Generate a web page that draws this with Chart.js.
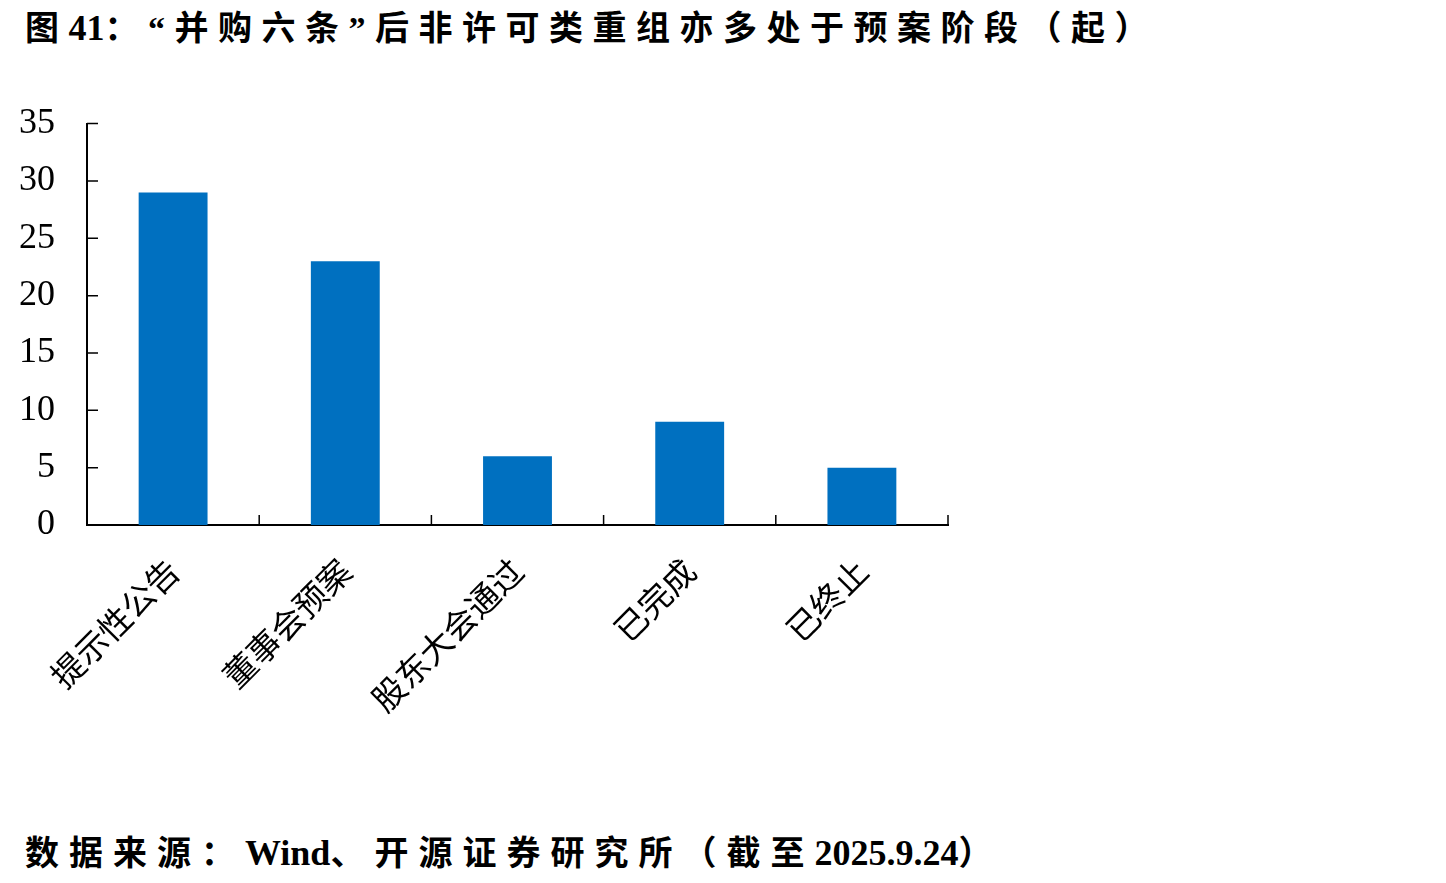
<!DOCTYPE html>
<html>
<head>
<meta charset="utf-8">
<script src="https://cdn.jsdelivr.net/npm/chart.js@4.4.0/dist/chart.umd.min.js"></script>
<style>
    html, body { margin: 0; padding: 0; background: #fff; }
    body { width: 1446px; height: 883px; position: relative; overflow: hidden; }
    .title, .source {
        position: absolute;
        left: 25px;
        font-family: "Liberation Serif", "Noto Sans CJK SC", serif;
        font-weight: bold;
        font-size: 34px;
        color: #000;
        white-space: nowrap;
    }
    .title { top: 1px; letter-spacing: 9.5px; }
    .source { top: 826px; letter-spacing: 10px; }
    .latin { letter-spacing: 0; font-size: 36px; }
    #chartBox { position: absolute; left: 0; top: 78px; width: 1000px; height: 700px; }
</style>
</head>
<body>
<div class="title">图<span class="latin">41</span>：“并购六条”后非许可类重组亦多处于预案阶段（起）</div>
<div id="chartBox"><canvas id="barChart"></canvas></div>
<div class="source">数据来源：<span class="latin">Wind</span>、开源证券研究所（截至<span class="latin">2025.9.24</span>）</div>

<script>
const categories = ['提示性公告', '董事会预案', '股东大会通过', '已完成', '已终止'];
const counts = [29, 23, 6, 9, 5];
const yTicks = [0, 5, 10, 15, 20, 25, 30, 35];

// short inward tick marks like the original
const innerTicks = {
    id: 'innerTicks',
    afterDraw(chart) {
        const ctx = chart.ctx;
        const x = chart.scales.x;
        const y = chart.scales.y;
        ctx.save();
        ctx.strokeStyle = '#000';
        ctx.lineWidth = 1.5;
        ctx.beginPath();
        y.ticks.forEach((t, i) => {
            const py = y.getPixelForTick(i);
            ctx.moveTo(y.right, py);
            ctx.lineTo(y.right + 11, py);
        });
        for (let i = 0; i <= categories.length; i++) {
            const px = x.getPixelForValue(i - 0.5);
            ctx.moveTo(px, x.top);
            ctx.lineTo(px, x.top - 10);
        }
        ctx.stroke();
        ctx.restore();
    }
};

const ctx = document.getElementById('barChart').getContext('2d');
new Chart(ctx, {
    type: 'bar',
    data: {
        labels: categories,
        datasets: [
            {
                data: counts,
                backgroundColor: '#0070C0',
                borderWidth: 0,
                barPercentage: 0.4,
                categoryPercentage: 1.0
            }
        ]
    },
    options: {
        responsive: true,
        maintainAspectRatio: false,
        animation: false,
        layout: {
            padding: { left: 0, right: 52, top: 23, bottom: 0 }
        },
        plugins: {
            legend: { display: false },
            tooltip: { enabled: false }
        },
        scales: {
            x: {
                afterFit: (scale) => { scale.height = 253; },
                grid: { display: false },
                border: { display: true, color: '#000', width: 2 },
                ticks: {
                    color: '#000',
                    minRotation: 45,
                    maxRotation: 45,
                    padding: 18,
                    font: { family: '"Noto Sans CJK SC", sans-serif', size: 33 }
                }
            },
            y: {
                min: 0,
                max: 35,
                afterFit: (scale) => { scale.width = 87; },
                afterBuildTicks: (scale) => {
                    scale.ticks = yTicks.map(v => ({ value: v }));
                },
                grid: { display: false },
                border: { display: true, color: '#000', width: 2 },
                ticks: {
                    color: '#000',
                    padding: 24,
                    font: { family: '"Liberation Serif", serif', size: 36 }
                }
            }
        }
    },
    plugins: [innerTicks]
});
</script>
</body>
</html>
